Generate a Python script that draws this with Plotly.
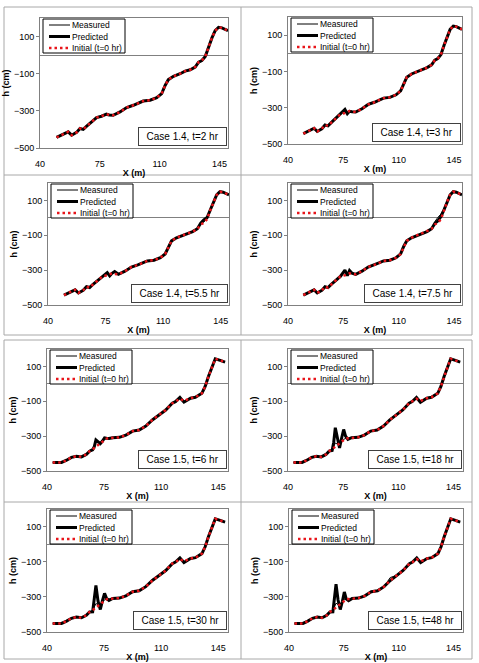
import plotly.graph_objects as go

W, H = 479, 663

# ---------------- data ----------------
X14 = [49.7, 52.0, 54.6, 56.5, 58.5, 61.4, 63.4, 65.3, 67.0, 69.2, 71.0, 73.1, 76.0, 77.5, 78.9, 80.5,
       82.8, 86.8, 90.7, 94.6, 97.5, 100.4, 104.4, 108.3, 111.2, 113.2, 115.1, 118.1, 122.0, 124.9,
       127.9, 130.8, 132.8, 134.7, 136.7, 138.6, 140.6, 142.5, 144.5, 146.4, 150.0]
INIT14 = [-443, -432, -422, -413, -431, -416, -395, -400, -385, -368, -352, -336, -329, -323, -318, -322,
          -324, -306, -282, -270, -258, -247, -243, -229, -207, -163, -132, -114, -100, -86,
          -79, -64, -38, -29, -7, 43, 93, 132, 150, 147, 132]
MEAS_14_2 = [-443, -432, -422, -413, -431, -416, -395, -400, -385, -368, -352, -336, -329, -323, -318, -322,
             -324, -306, -282, -270, -258, -247, -243, -229, -207, -163, -132, -114, -100, -86,
             -79, -64, -38, -26, -10, 40, 93, 132, 150, 147, 132]
PRED_14_2 = [-443, -432, -422, -413, -431, -416, -395, -400, -385, -368, -352, -336, -329, -323, -318, -322,
             -324, -306, -282, -270, -258, -247, -243, -229, -207, -163, -132, -114, -100, -86,
             -79, -64, -38, -29, -7, 43, 93, 132, 150, 147, 132]
MEAS_14_3 = [-443, -432, -422, -413, -431, -416, -395, -400, -385, -368, -352, -336, -312, -330, -318, -322,
             -324, -306, -282, -270, -258, -247, -243, -229, -207, -163, -132, -114, -100, -86,
             -79, -64, -36, -27, -6, 43, 93, 132, 150, 147, 132]
PRED_14_3 = [-443, -432, -422, -413, -431, -416, -395, -400, -385, -368, -352, -336, -310, -333, -320, -322,
             -324, -306, -282, -270, -258, -247, -243, -229, -207, -163, -132, -114, -100, -86,
             -79, -64, -38, -29, -7, 43, 93, 132, 150, 147, 132]
MEAS_14_55 = [-443, -432, -422, -413, -431, -416, -395, -400, -385, -368, -352, -336, -318, -328, -315, -312,
              -324, -306, -282, -270, -258, -247, -243, -229, -207, -163, -132, -114, -100, -86,
              -79, -64, -36, -24, -5, 43, 93, 132, 150, 147, 132]
PRED_14_55 = [-443, -432, -422, -413, -431, -416, -395, -400, -385, -368, -352, -336, -314, -333, -318, -308,
              -324, -306, -282, -270, -258, -247, -243, -229, -207, -163, -132, -114, -100, -86,
              -79, -62, -30, -12, 2, 45, 93, 132, 150, 147, 132]
MEAS_14_75 = [-443, -432, -422, -413, -431, -416, -395, -400, -385, -368, -352, -336, -305, -325, -308, -315,
              -324, -306, -282, -270, -258, -247, -243, -229, -207, -163, -132, -114, -100, -86,
              -79, -60, -22, 2, 22, 55, 95, 132, 150, 147, 132]
PRED_14_75 = [-443, -432, -422, -413, -431, -416, -395, -400, -385, -368, -352, -336, -300, -332, -302, -318,
              -324, -306, -282, -270, -258, -247, -243, -229, -207, -163, -132, -114, -100, -86,
              -79, -62, -32, -18, 8, 45, 93, 132, 150, 147, 132]

X15 = [43.5, 48.9, 52.0, 55.0, 58.0, 61.1, 64.1, 66.1, 68.0, 69.0, 70.0, 71.3, 72.7, 74.0, 75.3, 76.5,
       78.0, 80.3, 84.4, 88.4, 92.5, 96.5, 100.6, 104.6, 108.7, 112.8, 116.8, 118.8, 121.5, 124.0,
       128.0, 131.0, 135.0, 137.0, 139.0, 141.0, 143.2, 146.2, 149.2]
INIT15 = [-451, -451, -438, -422, -415, -419, -405, -386, -375, -368, -362, -355, -345, -335, -322, -314,
          -312, -309, -307, -294, -271, -265, -242, -207, -178, -150, -111, -102, -85, -98,
          -82, -77, -54, -15, 42, 91, 144, 135, 125]
MEAS_15_6 = [-451, -451, -438, -422, -415, -419, -405, -386, -376, -365, -332, -336, -345, -326, -314, -313,
             -313, -309, -307, -294, -271, -265, -242, -207, -178, -150, -111, -102, -80, -103,
             -82, -77, -54, -15, 42, 91, 144, 135, 125]
PRED_15_6 = [-451, -451, -438, -422, -415, -419, -405, -386, -378, -360, -322, -332, -343, -328, -310, -312,
             -314, -309, -307, -294, -271, -265, -242, -207, -178, -150, -111, -102, -78, -105,
             -82, -77, -54, -15, 42, 91, 144, 135, 125]
MEAS_15_18 = [-451, -451, -438, -422, -415, -419, -405, -386, -378, -360, -340, -345, -350, -330, -318, -314,
              -312, -309, -307, -294, -271, -265, -242, -207, -178, -150, -111, -102, -80, -103,
              -82, -77, -54, -15, 42, 91, 144, 135, 125]
PRED_15_18 = [-451, -451, -438, -422, -415, -419, -405, -386, -382, -335, -252, -320, -368, -312, -262, -300,
              -318, -309, -307, -294, -271, -265, -242, -207, -178, -150, -111, -102, -78, -105,
              -82, -77, -54, -15, 42, 91, 144, 135, 125]
MEAS_15_30 = [-451, -451, -438, -422, -415, -419, -405, -386, -378, -358, -338, -344, -350, -330, -317, -314,
              -312, -309, -307, -294, -271, -265, -242, -200, -178, -150, -111, -102, -80, -103,
              -82, -77, -54, -15, 42, 91, 144, 135, 125]
PRED_15_30 = [-451, -451, -438, -422, -415, -419, -405, -386, -385, -320, -235, -325, -372, -322, -280, -308,
              -320, -309, -307, -294, -271, -265, -242, -207, -178, -150, -111, -102, -78, -105,
              -82, -77, -54, -15, 42, 91, 144, 135, 125]
MEAS_15_48 = [-451, -451, -438, -422, -415, -419, -405, -386, -378, -358, -336, -344, -350, -330, -316, -314,
              -312, -309, -307, -294, -271, -265, -242, -190, -178, -150, -111, -102, -80, -103,
              -82, -77, -54, -15, 42, 91, 144, 135, 125]
PRED_15_48 = [-451, -451, -438, -422, -415, -419, -405, -386, -385, -312, -228, -318, -372, -328, -272, -312,
              -322, -309, -307, -294, -271, -265, -242, -207, -178, -150, -111, -102, -78, -105,
              -82, -77, -54, -15, 42, 91, 144, 135, 125]

CASE_LABELS = ["Case 1.4, t=2 hr", "Case 1.4, t=3 hr", "Case 1.4, t=5.5 hr", "Case 1.4, t=7.5 hr",
               "Case 1.5, t=6 hr", "Case 1.5, t=18 hr", "Case 1.5, t=30 hr", "Case 1.5, t=48 hr"]
SERIES_NAMES = ["Measured", "Predicted", "Initial (t=0 hr)"]
X_TICKS = [40, 75, 110, 145]
Y_TICKS = [100, -100, -300, -500]

PANEL_DATA = [
    (X14, MEAS_14_2, PRED_14_2, INIT14),
    (X14, MEAS_14_3, PRED_14_3, INIT14),
    (X14, MEAS_14_55, PRED_14_55, INIT14),
    (X14, MEAS_14_75, PRED_14_75, INIT14),
    (X15, MEAS_15_6, PRED_15_6, INIT15),
    (X15, MEAS_15_18, PRED_15_18, INIT15),
    (X15, MEAS_15_30, PRED_15_30, INIT15),
    (X15, MEAS_15_48, PRED_15_48, INIT15),
]

# ---------------- layout geometry (pixels: left, right, top, bottom) ----------------
BOXES = [
    (40, 228, 18, 148), (288, 462, 17, 144),
    (48, 229, 183, 305), (288, 462, 183, 305),
    (47, 228, 349, 471), (288, 463, 349, 471),
    (47, 228, 509, 632), (289, 463, 509, 632),
]
XRANGES = [[40, 150]] * 4 + [[40, 151]] * 4

FONT = "Arial, Liberation Sans, sans-serif"
RED = "#e8141a"
NBSP = "\u00a0"


def px(x):
    return x / W


def py(y):
    return 1 - y / H


fig = go.Figure()
shapes = []
annotations = []
layout = {}

for i, (box, (xs, meas, pred, init)) in enumerate(zip(BOXES, PANEL_DATA)):
    n = i + 1
    xa = "x" if n == 1 else f"x{n}"
    ya = "y" if n == 1 else f"y{n}"
    L, R, T, B = box
    fig.add_trace(go.Scatter(x=xs, y=meas, mode="lines", name=SERIES_NAMES[0], xaxis=xa, yaxis=ya,
                             line=dict(color="black", width=1), showlegend=False))
    fig.add_trace(go.Scatter(x=xs, y=pred, mode="lines", name=SERIES_NAMES[1], xaxis=xa, yaxis=ya,
                             line=dict(color="black", width=3), showlegend=False))
    fig.add_trace(go.Scatter(x=xs, y=init, mode="lines", name=SERIES_NAMES[2], xaxis=xa, yaxis=ya,
                             line=dict(color=RED, width=2.5, dash="2.5px,3px"), showlegend=False))

    layout[f"xaxis{n}"] = dict(
        domain=[px(L), px(R)], anchor=ya, range=XRANGES[i], tickvals=X_TICKS,
        showgrid=False, zeroline=False, showline=True, mirror=True, linecolor="#808080", linewidth=1,
        ticks="", ticklabelstandoff=7, tickfont=dict(family=FONT, size=9, color="black"),
        title=dict(text="<b>X (m)</b>", font=dict(family=FONT, size=9, color="black"), standoff=1),
        automargin=False,
    )
    layout[f"yaxis{n}"] = dict(
        domain=[py(B), py(T)], anchor=xa, range=[-500, 200], tickvals=Y_TICKS,
        showgrid=False, zeroline=True, zerolinecolor="#808080", zerolinewidth=1,
        showline=True, mirror=True, linecolor="#808080", linewidth=1,
        ticks="outside", ticklen=3, tickcolor="#808080",
        tickfont=dict(family=FONT, size=9, color="black"),
        title=dict(text="<b>h (cm)</b>", font=dict(family=FONT, size=9, color="black"), standoff=2),
        automargin=False,
    )

    # legend box (drawn manually, Excel-style compact)
    lx0, lx1 = L + 3, L + 85
    ly0, ly1 = T + 1, T + 35
    shapes.append(dict(type="rect", xref="paper", yref="paper", x0=px(lx0), x1=px(lx1), y0=py(ly1), y1=py(ly0),
                       line=dict(color="black", width=1), fillcolor="white", layer="above"))
    rows = [(T + 7, dict(color="black", width=1)),
            (T + 18.5, dict(color="black", width=3)),
            (T + 30, dict(color=RED, width=2.5, dash="2.5px,3px"))]
    for (yy, ln), nm in zip(rows, SERIES_NAMES):
        shapes.append(dict(type="line", xref="paper", yref="paper", x0=px(L + 9), x1=px(L + 30),
                           y0=py(yy), y1=py(yy), line=ln, layer="above"))
        annotations.append(dict(xref="paper", yref="paper", x=px(L + 30), y=py(yy), text=nm,
                                showarrow=False, xanchor="left", yanchor="middle",
                                font=dict(family=FONT, size=8.5, color="black")))

    # case label box
    annotations.append(dict(xref=f"{xa} domain", yref=f"{ya} domain", x=1, y=0, xanchor="right",
                            yanchor="bottom", xshift=-1, yshift=2,
                            text=NBSP * 2 + CASE_LABELS[i] + NBSP * 2, showarrow=False,
                            font=dict(family=FONT, size=10, color="black"), bgcolor="white",
                            bordercolor="#404040", borderwidth=1, borderpad=2, height=13))

# panel frames
frame = dict(color="#a8a8a8", width=1)
for (x0, x1, y0, y1) in [(4, 472, 7, 335), (4, 472, 340, 659)]:
    shapes.append(dict(type="rect", xref="paper", yref="paper", x0=px(x0), x1=px(x1), y0=py(y1), y1=py(y0),
                       line=frame, layer="below"))
for (x0, x1, y0, y1) in [(241, 241, 7, 335), (4, 472, 175, 175), (241, 241, 340, 659), (4, 472, 502, 502)]:
    shapes.append(dict(type="line", xref="paper", yref="paper", x0=px(x0), x1=px(x1), y0=py(y1), y1=py(y0),
                       line=frame, layer="below"))

fig.update_layout(
    width=W, height=H, margin=dict(l=0, r=0, t=0, b=0),
    paper_bgcolor="white", plot_bgcolor="white",
    showlegend=False, shapes=shapes, annotations=annotations,
    **layout,
)

fig.write_html("out.html")
